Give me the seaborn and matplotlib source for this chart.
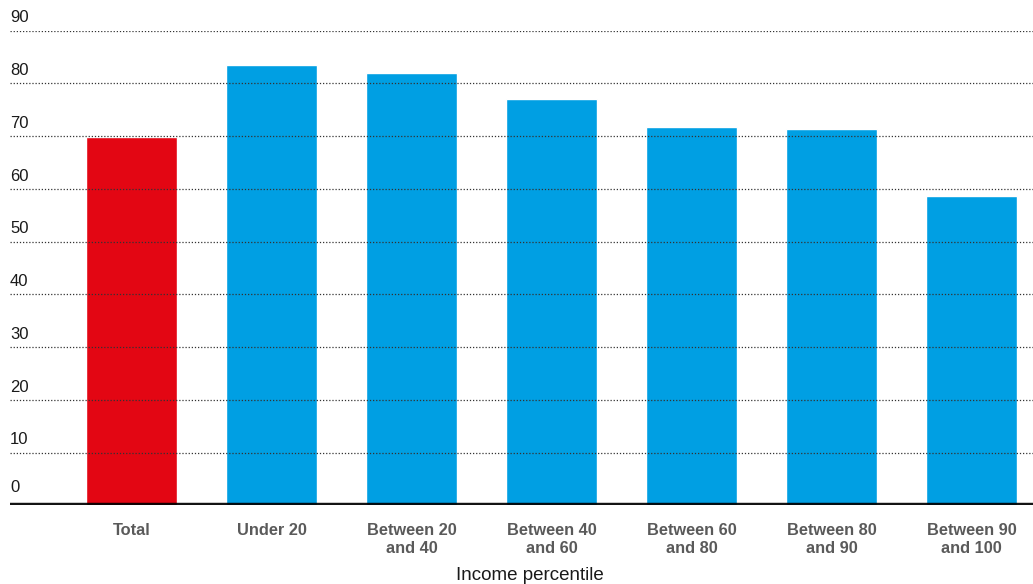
import matplotlib
matplotlib.use("Agg")
import matplotlib.pyplot as plt
import seaborn as sns
import pandas as pd

# Share of households by income percentile (%)
categories = ["Total", "Under 20", "Between 20\nand 40", "Between 40\nand 60",
              "Between 60\nand 80", "Between 80\nand 90", "Between 90\nand 100"]
values = [69.8, 83.4, 81.9, 77.1, 71.8, 71.4, 58.7]
bar_colors = ["#E30613", "#009FE3", "#009FE3", "#009FE3", "#009FE3", "#009FE3", "#009FE3"]
y_ticks = [0, 10, 20, 30, 40, 50, 60, 70, 80, 90]
x_title = "Income percentile"

sns.set_theme(style="white")
plt.rcParams["font.family"] = ["Liberation Sans", "DejaVu Sans"]

df = pd.DataFrame({"category": categories, "value": values})

fig = plt.figure(figsize=(10.33, 5.84), dpi=100)
W, H = 1033, 584
ax = fig.add_axes([10 / W, 78.6 / H, 1 - 10 / W, (553.5 - 78.6) / H])

sns.barplot(data=df, x="category", y="value", hue="category",
            palette=dict(zip(categories, bar_colors)), order=categories,
            width=0.65, saturation=1, legend=False, ax=ax, zorder=1)

ax.set_xlim(-0.868, 6.44)
ax.set_ylim(0, 90)

# dotted gridlines drawn over bars, labels sitting above each line
for t in y_ticks[1:]:
    ax.axhline(t, color="#333333", lw=0.9, ls=(0, (1, 1.5)), zorder=3)
for t in y_ticks:
    off = 1.0 if t > 0 else 2.0
    ax.text(0, t + off, str(t), transform=ax.get_yaxis_transform(),
            ha="left", va="bottom", fontsize=12, color="#1a1a1a")
ax.axhline(0, color="black", lw=3.2, zorder=4, alpha=0.92)

ax.set_yticks([])
for s in ax.spines.values():
    s.set_visible(False)

ax.tick_params(axis="x", length=0, pad=13)
for lbl in ax.get_xticklabels():
    lbl.set_fontweight("bold")
    lbl.set_color("#5a5a5a")
    lbl.set_fontsize(11.8)
    lbl.set_linespacing(1.2)

ax.set_ylabel("")
ax.set_xlabel("")
fig.text(530 / W, 4 / H, x_title, ha="center", va="baseline",
         fontsize=13.5, color="#1a1a1a")

fig.savefig("out.png", dpi=100)
